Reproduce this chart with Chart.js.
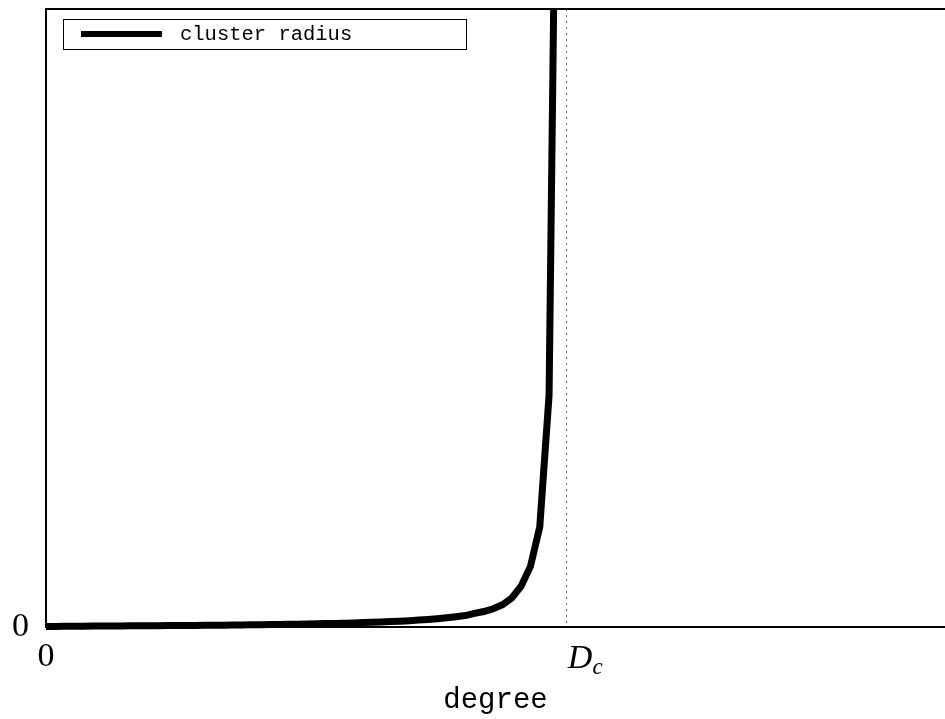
<!DOCTYPE html>
<html>
<head>
<meta charset="utf-8">
<script src="https://cdn.jsdelivr.net/npm/chart.js@4/dist/chart.umd.min.js"></script>
<style>
  html, body { margin: 0; padding: 0; background: #fff; }
  canvas { display: block; }
</style>
</head>
<body>
<canvas id="chart" width="945" height="719"></canvas>
<script>
// values
const degree = [0, 1, 2, 3, 4, 5, 6, 7, 8, 9, 10, 11, 12, 13, 14, 15, 16, 17, 18, 19,
  20, 21, 22, 23, 24, 25, 26, 27, 28, 29, 30, 31, 32, 33, 34, 35, 36, 37, 38, 39,
  40, 41, 42, 43, 44, 45, 46, 47, 48, 49, 50, 51, 52, 53, 54, 55]
const clusterRadius = [0.01, 0.01, 0.012, 0.013, 0.014, 0.015, 0.016, 0.017, 0.018, 0.019,
  0.02, 0.021, 0.022, 0.023, 0.024, 0.025, 0.026, 0.027, 0.028, 0.03,
  0.032, 0.033, 0.035, 0.037, 0.039, 0.041, 0.043, 0.045, 0.048, 0.051,
  0.055, 0.058, 0.062, 0.066, 0.071, 0.076, 0.082, 0.088, 0.095, 0.103,
  0.112, 0.122, 0.134, 0.148, 0.165, 0.185, 0.22, 0.25, 0.295, 0.36,
  0.47, 0.66, 0.98, 1.62, 3.75, 16.5]
const D_C = 55.8          // critical degree (dotted line)
const X_MAX = 96.5
const Y_MAX = 10
const xTickLabels = ['0', 'D', 'c']   // "0" and D_c (D with subscript c)
const yTickLabels = ['0']

const serif = '"Liberation Serif", "DejaVu Serif", serif'
const mono = '"Liberation Mono", "DejaVu Sans Mono", monospace'

const extras = {
    id: 'extras',
    beforeDatasetsDraw(chart) {
        const ctx = chart.ctx
        const area = chart.chartArea
        const x = Math.round(chart.scales.x.getPixelForValue(D_C)) + 0.5
        ctx.save()
        ctx.strokeStyle = '#666'
        ctx.lineWidth = 1
        ctx.setLineDash([2, 4])
        ctx.beginPath()
        ctx.moveTo(x, area.top)
        ctx.lineTo(x, area.bottom)
        ctx.stroke()
        ctx.restore()
    },
    afterDraw(chart) {
        const ctx = chart.ctx
        const area = chart.chartArea
        const ds = chart.data.datasets[0]
        ctx.save()
        // top frame line
        ctx.strokeStyle = '#000'
        ctx.lineWidth = 2
        ctx.beginPath()
        ctx.moveTo(area.left, area.top)
        ctx.lineTo(area.right, area.top)
        ctx.stroke()

        // D_c tick label
        const xd = chart.scales.x.getPixelForValue(D_C)
        ctx.fillStyle = '#000'
        ctx.textBaseline = 'alphabetic'
        ctx.textAlign = 'left'
        ctx.font = 'italic 34px ' + serif
        ctx.fillText(xTickLabels[1], xd + 2, area.bottom + 41)
        const w = ctx.measureText(xTickLabels[1]).width
        ctx.font = 'italic 23px ' + serif
        ctx.fillText(xTickLabels[2], xd + 2 + w, area.bottom + 47)

        // legend box
        const lx = area.left + 17, ly = area.top + 10
        ctx.fillStyle = '#fff'
        ctx.fillRect(lx, ly, 403, 30)
        ctx.lineWidth = 1
        ctx.strokeStyle = '#000'
        ctx.strokeRect(lx + 0.5, ly + 0.5, 403, 30)
        ctx.lineWidth = 6
        ctx.beginPath()
        ctx.moveTo(lx + 18, ly + 15)
        ctx.lineTo(lx + 99, ly + 15)
        ctx.stroke()
        ctx.fillStyle = '#000'
        ctx.font = '20.5px ' + mono
        ctx.textBaseline = 'middle'
        ctx.fillText(ds.label, lx + 117, ly + 16)
        ctx.restore()
    }
}

const ctx = document.getElementById('chart').getContext('2d')
const chart = new Chart(ctx, {
    type: 'line',
    data: {
        datasets: [{
            label: 'cluster radius',
            data: degree.map((d, i) => ({ x: d, y: clusterRadius[i] })),
            borderColor: '#000',
            borderWidth: 7,
            pointRadius: 0,
            tension: 0,
            fill: false,
            clip: { left: 0, top: 0, right: 0, bottom: 6 }
        }]
    },
    options: {
        responsive: false,
        animation: false,
        layout: { padding: { top: 9, right: 0, left: 0, bottom: 0 } },
        plugins: {
            legend: { display: false },
            tooltip: { enabled: false }
        },
        scales: {
            x: {
                type: 'linear',
                min: 0,
                max: X_MAX,
                afterBuildTicks: (s) => { s.ticks = [{ value: 0 }, { value: D_C }] },
                afterFit: (s) => { s.height = 92; s.paddingLeft = 0; s.paddingRight = 0 },
                ticks: {
                    autoSkip: false,
                    maxRotation: 0,
                    padding: 10,
                    color: '#000',
                    font: { family: serif, size: 34 },
                    callback: (v) => v === 0 ? xTickLabels[0] : ''
                },
                grid: { display: false, drawTicks: false },
                border: { display: true, color: '#000', width: 2 },
                title: {
                    display: true,
                    text: 'degree',
                    color: '#000',
                    font: { family: mono, size: 29 },
                    padding: { top: 0, bottom: 1 }
                }
            },
            y: {
                min: 0,
                max: Y_MAX,
                afterBuildTicks: (s) => { s.ticks = [{ value: 0 }] },
                afterFit: (s) => { s.width = 46; s.paddingTop = 0; s.paddingBottom = 0 },
                ticks: {
                    padding: 17,
                    color: '#000',
                    font: { family: serif, size: 34 },
                    callback: (v) => yTickLabels[0]
                },
                grid: { display: false, drawTicks: false },
                border: { display: true, color: '#000', width: 2 }
            }
        }
    },
    plugins: [extras]
})
</script>
</body>
</html>
